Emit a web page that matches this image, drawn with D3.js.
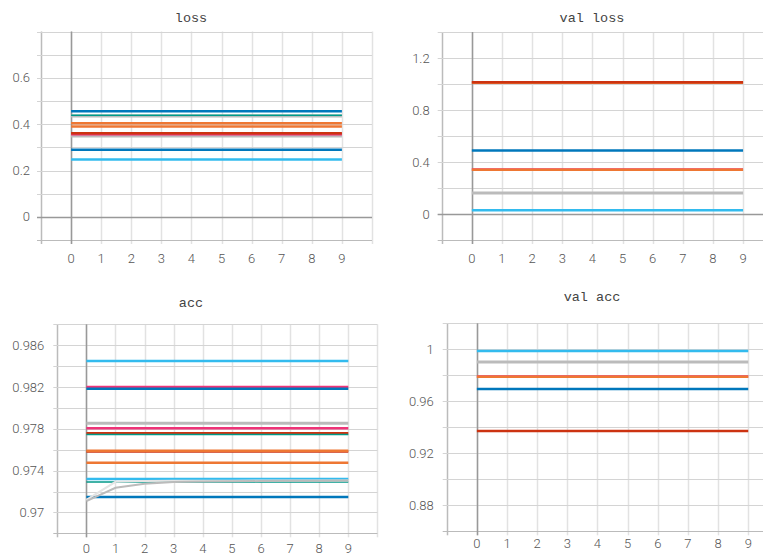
<!DOCTYPE html>
<html>
<head>
<meta charset="utf-8">
<script src="https://cdn.jsdelivr.net/npm/d3@7"></script>
<style>
  html, body { margin: 0; padding: 0; background: #fff; }
  svg { display: block; }
  .tick-label { font-family: Roboto, "Noto Sans", sans-serif; font-weight: 300; font-size: 13px; fill: #555; }
  .title { font-family: "Liberation Mono", "DejaVu Sans Mono", monospace; font-size: 13.5px; fill: #444; }
</style>
</head>
<body>
<svg id="chart" width="763" height="558"></svg>
<script>
// Training epochs shared by every run
const epochs = [0, 1, 2, 3, 4, 5, 6, 7, 8, 9];

// loss: final value of each run (flat over epochs)
const lossValues = [0.435, 0.438, 0.456, 0.404, 0.390, 0.349, 0.356, 0.361, 0.290, 0.248];
const lossColors = ["#bbbbbb", "#009988", "#0077bb", "#ee7733", "#ee7733", "#bbbbbb", "#ee3377", "#cc3311", "#0077bb", "#33bbee"];
const lossTicks = [0, 0.2, 0.4, 0.6];

// val loss
const valLossValues = [1.010, 1.014, 0.489, 0.342, 0.340, 0.161, 0.028];
const valLossColors = ["#ee7733", "#cc3311", "#0077bb", "#ee3377", "#ee7733", "#bbbbbb", "#33bbee"];
const valLossTicks = [0, 0.4, 0.8, 1.2];

// acc
const accValues = [0.98450, 0.98200, 0.98183, 0.97853, 0.97805, 0.97757, 0.97746, 0.97582, 0.97590, 0.97475, 0.97320, 0.97290, 0.97147];
const accColors = ["#33bbee", "#ee3377", "#0077bb", "#bbbbbb", "#ee3377", "#cc3311", "#009988", "#cc3311", "#ee7733", "#ee7733", "#33bbee", "#009988", "#0077bb"];
// runs whose accuracy still rises during the first epochs
const accCurveA = [0.97120, 0.97293, 0.97300, 0.97302, 0.97303, 0.97304, 0.97305, 0.97305, 0.97306, 0.97306];
const accCurveB = [0.97108, 0.97236, 0.97274, 0.97290, 0.97295, 0.97297, 0.97300, 0.97302, 0.97303, 0.97305];
const accTicks = [0.970, 0.974, 0.978, 0.982, 0.986];

// val acc
const valAccValues = [0.9987, 0.9902, 0.9791, 0.9789, 0.9695, 0.9372];
const valAccColors = ["#33bbee", "#bbbbbb", "#ee3377", "#ee7733", "#0077bb", "#cc3311"];
const valAccTicks = [0.88, 0.92, 0.96, 1];

// stroke width per run colour: teal runs are drawn thin, grey runs wide
const strokeByColor = { "#009988": 1.5, "#bbbbbb": 3 };

const svg = d3.select("#chart");

function drawPanel(cfg) {
  const g = svg.append("g");
  const x = d3.scaleLinear().domain([-1, 10]).range(cfg.xRange);
  const y = d3.scaleLinear().domain(cfg.yDomain).range(cfg.yRange);
  const [x0, x1] = cfg.xRange;
  const [yb, yt] = cfg.yRange;

  // vertical grid
  g.selectAll(".vgrid").data(d3.range(-1, 11)).join("line")
    .attr("x1", d => Math.round(x(d)) + 0.5).attr("x2", d => Math.round(x(d)) + 0.5)
    .attr("y1", yt).attr("y2", yb + 4)
    .attr("stroke", d => d === -1 ? "#bbb" : "#e2e2e2").attr("stroke-width", 1.5);

  // horizontal grid
  const minor = d3.range(cfg.yDomain[0], cfg.yDomain[1] + cfg.minorStep / 2, cfg.minorStep);
  g.selectAll(".hgrid").data(minor).join("line")
    .attr("x1", x0 - 4).attr("x2", x1)
    .attr("y1", d => Math.round(y(d)) + 0.5).attr("y2", d => Math.round(y(d)) + 0.5)
    .attr("stroke", (d, i) => i === 0 ? "#bbb" : "#d4d4d4").attr("stroke-width", 1);

  // zero axes
  g.append("line")
    .attr("x1", Math.round(x(0)) + 0.5).attr("x2", Math.round(x(0)) + 0.5)
    .attr("y1", yt).attr("y2", yb + 4)
    .attr("stroke", "#999").attr("stroke-width", 1.5);
  if (cfg.yDomain[0] < 0) {
    g.append("line")
      .attr("x1", x0 - 4).attr("x2", x1)
      .attr("y1", Math.round(y(0)) + 0.5).attr("y2", Math.round(y(0)) + 0.5)
      .attr("stroke", "#999").attr("stroke-width", 1.5);
  }

  // y tick labels
  g.selectAll(".ylab").data(cfg.yTicks).join("text")
    .attr("class", "tick-label")
    .attr("x", x0 - cfg.labelGap).attr("y", d => y(d))
    .attr("dy", "0.35em").attr("text-anchor", "end")
    .text(d => d3.format(cfg.fmt)(d));

  // x tick labels
  g.selectAll(".xlab").data(epochs).join("text")
    .attr("class", "tick-label")
    .attr("x", d => x(d)).attr("y", cfg.xLabelY)
    .attr("text-anchor", "middle")
    .text(d => d);

  // title
  g.append("text").attr("class", "title")
    .attr("x", cfg.titleX).attr("y", cfg.titleY)
    .attr("text-anchor", "middle").text(cfg.title);

  const line = d3.line().x((d, i) => x(epochs[i])).y(d => y(d));

  // flat runs
  cfg.values.forEach((v, i) => {
    const c = cfg.colors[i];
    g.append("path")
      .datum(epochs.map(() => v))
      .attr("d", line)
      .attr("fill", "none")
      .attr("stroke", c)
      .attr("stroke-width", strokeByColor[c] || 2.5);
  });

  (cfg.curves || []).forEach(c => {
    g.append("path")
      .datum(c.values)
      .attr("d", line)
      .attr("fill", "none")
      .attr("stroke", c.color)
      .attr("stroke-width", 2);
  });
}

drawPanel({
  title: "loss", titleX: 191, titleY: 22,
  xRange: [41, 372], yRange: [240, 31.5], yDomain: [-0.1, 0.8], minorStep: 0.1,
  yTicks: lossTicks, fmt: "~g", labelGap: 11, xLabelY: 263,
  values: lossValues, colors: lossColors
});

drawPanel({
  title: "val loss", titleX: 592, titleY: 22,
  xRange: [441.7, 773.2], yRange: [240, 32], yDomain: [-0.2, 1.4], minorStep: 0.2,
  yTicks: valLossTicks, fmt: "~g", labelGap: 12, xLabelY: 263,
  values: valLossValues, colors: valLossColors
});

drawPanel({
  title: "acc", titleX: 191, titleY: 307,
  xRange: [57.3, 377.4], yRange: [533.3, 324.3], yDomain: [0.968, 0.988], minorStep: 0.002,
  yTicks: accTicks, fmt: "~g", labelGap: 13, xLabelY: 553,
  values: accValues, colors: accColors,
  curves: [{ values: accCurveA, color: "#e4e4e4" }, { values: accCurveB, color: "#bbbbbb" }]
});

drawPanel({
  title: "val acc", titleX: 592, titleY: 301,
  xRange: [446.7, 778.4], yRange: [531.3, 323.3], yDomain: [0.86, 1.02], minorStep: 0.02,
  yTicks: valAccTicks, fmt: "~g", labelGap: 13, xLabelY: 548,
  values: valAccValues, colors: valAccColors
});
</script>
</body>
</html>
